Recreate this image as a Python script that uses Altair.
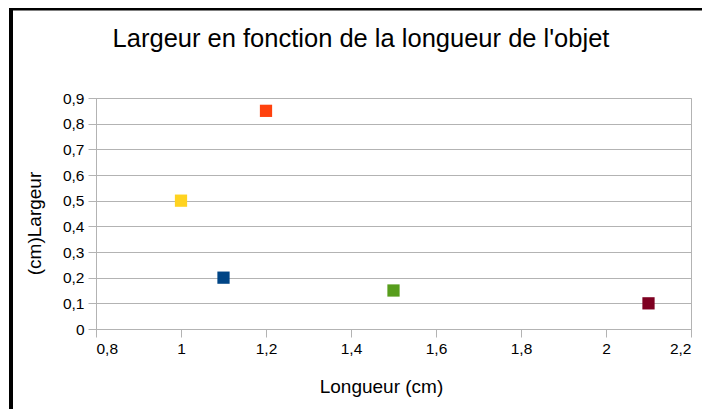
import altair as alt
import pandas as pd

# Data
series = ["Série 1", "Série 2", "Série 3", "Série 4", "Série 5"]
longueur = [1.1, 1.2, 1.0, 1.5, 2.1]
largeur = [0.2, 0.85, 0.5, 0.15, 0.1]
colors = ["#004586", "#FF420E", "#FFD320", "#579D1C", "#7E0021"]
x_ticks = [0.8, 1.0, 1.2, 1.4, 1.6, 1.8, 2.0, 2.2]
y_ticks = [0, 0.1, 0.2, 0.3, 0.4, 0.5, 0.6, 0.7, 0.8, 0.9]
chart_title = "Largeur en fonction de la longueur de l'objet"

df = pd.DataFrame({"serie": series, "longueur": longueur, "largeur": largeur})

FONT = "Liberation Sans"
GRID = "#b3b3b3"
label_expr = "replace(format(datum.value, '~g'), '.', ',')"

W, H = 595, 231

points = alt.Chart(df).mark_square(size=150, opacity=1, filled=True).encode(
    x=alt.X(
        "longueur:Q",
        scale=alt.Scale(domain=[0.8, 2.2], nice=False, zero=False),
        axis=alt.Axis(
            values=x_ticks,
            labelExpr=label_expr,
            title="Longueur (cm)",
            grid=False,
            domainColor=GRID,
            tickColor=GRID,
            tickSize=8,
            labelPadding=4,
            labelFont=FONT,
            labelFontSize=15.5,
            labelColor="#000000",
            titleFont=FONT,
            titleFontSize=19,
            titleFontWeight="normal",
            titleColor="#000000",
            titleX=285,
            titleY=63,
            titleBaseline="alphabetic",
            titleAnchor="middle",
        ),
    ),
    y=alt.Y(
        "largeur:Q",
        scale=alt.Scale(domain=[0, 0.9], nice=False, zero=True),
        axis=alt.Axis(
            values=y_ticks,
            labelExpr=label_expr,
            title="(cm)Largeur",
            grid=True,
            gridColor=GRID,
            domainColor=GRID,
            tickColor=GRID,
            tickSize=8,
            labelPadding=4,
            labelFont=FONT,
            labelFontSize=15.5,
            labelColor="#000000",
            titleFont=FONT,
            titleFontSize=19,
            titleFontWeight="normal",
            titleColor="#000000",
            titleX=-62,
            titleY=125,
            titleBaseline="middle",
            titleAngle=270,
        ),
    ),
    color=alt.Color(
        "serie:N",
        scale=alt.Scale(domain=series, range=colors),
        legend=None,
    ),
)

frame_src = alt.Data(values=[{"t": chart_title}])
left_border = alt.Chart(frame_src).mark_rule(color="#000000", strokeWidth=4).encode(
    x=alt.value(-85), y=alt.value(-90), y2=alt.value(H + 90)
)
top_border = alt.Chart(frame_src).mark_rule(color="#000000", strokeWidth=3).encode(
    x=alt.value(-87), x2=alt.value(W + 20), y=alt.value(-89)
)
title_text = alt.Chart(frame_src).mark_text(
    font=FONT, fontSize=25.5, color="#000000", align="center", baseline="alphabetic"
).encode(text="t:N", x=alt.value(265), y=alt.value(-51))

chart = alt.layer(points, left_border, top_border, title_text).properties(
    width=W,
    height=H,
    autosize=alt.AutoSizeParams(type="none"),
    padding={"left": 88, "top": 90, "right": 11, "bottom": 80},
).configure_view(stroke=GRID, strokeWidth=1)

chart.save("out.html", embed_options={"renderer": "svg", "actions": False})
